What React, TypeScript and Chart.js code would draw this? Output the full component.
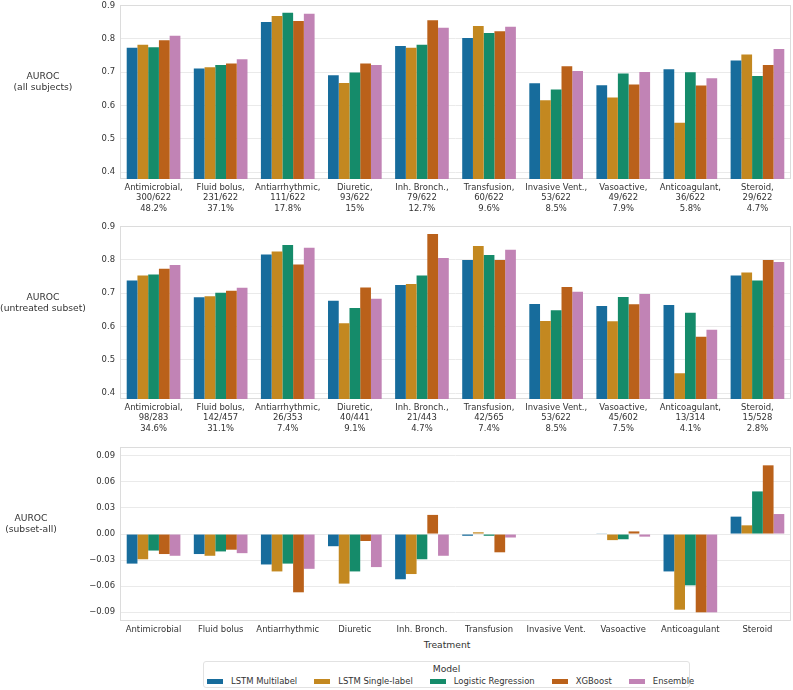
import React, { useEffect, useRef } from "react";
import { Chart, registerables } from "chart.js";

Chart.register(...registerables);

const FONT = "'DejaVu Sans', 'Liberation Sans', sans-serif";
const TEXT = "#333333";

const categories = [
  "Antimicrobial", "Fluid bolus", "Antiarrhythmic", "Diuretic", "Inh. Bronch.",
  "Transfusion", "Invasive Vent.", "Vasoactive", "Anticoagulant", "Steroid",
];
const allCounts = ["300/622", "231/622", "111/622", "93/622", "79/622", "60/622", "53/622", "49/622", "36/622", "29/622"];
const allPct = ["48.2%", "37.1%", "17.8%", "15%", "12.7%", "9.6%", "8.5%", "7.9%", "5.8%", "4.7%"];
const subCounts = ["98/283", "142/457", "26/353", "40/441", "21/443", "42/565", "53/622", "45/602", "13/314", "15/528"];
const subPct = ["34.6%", "31.1%", "7.4%", "9.1%", "4.7%", "7.4%", "8.5%", "7.5%", "4.1%", "2.8%"];

const models = ["LSTM Multilabel", "LSTM Single-label", "Logistic Regression", "XGBoost", "Ensemble"];
const modelColors = ["#176C9C", "#C38820", "#158B6A", "#BA611A", "#C183B5"];

// AUROC (all subjects)
const lstmMultiAll = [0.774, 0.711, 0.851, 0.691, 0.779, 0.803, 0.667, 0.661, 0.709, 0.735];
const lstmSingleAll = [0.783, 0.715, 0.869, 0.668, 0.774, 0.839, 0.616, 0.624, 0.548, 0.753];
const logRegAll = [0.775, 0.722, 0.879, 0.699, 0.783, 0.818, 0.648, 0.696, 0.700, 0.689];
const xgbAll = [0.796, 0.726, 0.854, 0.726, 0.856, 0.823, 0.718, 0.663, 0.660, 0.722];
const ensembleAll = [0.810, 0.739, 0.876, 0.722, 0.834, 0.837, 0.704, 0.701, 0.682, 0.770];

// AUROC (untreated subset)
const lstmMultiSub = [0.738, 0.687, 0.816, 0.677, 0.724, 0.799, 0.667, 0.661, 0.664, 0.753];
const lstmSingleSub = [0.753, 0.690, 0.825, 0.609, 0.727, 0.841, 0.616, 0.615, 0.459, 0.762];
const logRegSub = [0.756, 0.701, 0.844, 0.655, 0.753, 0.814, 0.648, 0.688, 0.641, 0.738];
const xgbSub = [0.773, 0.707, 0.786, 0.717, 0.877, 0.799, 0.718, 0.666, 0.569, 0.799];
const ensembleSub = [0.784, 0.716, 0.836, 0.683, 0.805, 0.830, 0.704, 0.697, 0.590, 0.793];

// AUROC (subset - all)
const lstmMultiDiff = [-0.034, -0.023, -0.035, -0.014, -0.052, -0.002, 0, 0.0004, -0.043, 0.020];
const lstmSingleDiff = [-0.029, -0.025, -0.043, -0.057, -0.046, 0.002, 0, -0.007, -0.087, 0.010];
const logRegDiff = [-0.019, -0.020, -0.034, -0.043, -0.029, -0.002, 0, -0.006, -0.059, 0.049];
const xgbDiff = [-0.023, -0.018, -0.067, -0.008, 0.022, -0.021, 0, 0.003, -0.090, 0.079];
const ensembleDiff = [-0.025, -0.022, -0.040, -0.038, -0.025, -0.004, 0, -0.003, -0.090, 0.023];

const aurocTicks = [0.4, 0.5, 0.6, 0.7, 0.8, 0.9];
const diffTicks = [-0.09, -0.06, -0.03, 0, 0.03, 0.06, 0.09];

const framePlugin = {
  id: "frame",
  beforeDatasetsDraw(chart: any) {
    const { ctx, chartArea: a } = chart;
    ctx.save();
    ctx.strokeStyle = "#DCDCDC";
    ctx.lineWidth = 1;
    ctx.strokeRect(Math.round(a.left) + 0.5, Math.round(a.top) + 0.5, Math.round(a.right - a.left) - 1, Math.round(a.bottom - a.top) - 1);
    ctx.restore();
  },
};

type PanelProps = {
  top: number;
  height: number;
  labels: any[];
  series: number[][];
  min: number;
  max: number;
  tickValues: number[];
  fmt: (v: number) => string;
  xAxisHeight: number;
};

function Panel({ top, height, labels, series, min, max, tickValues, fmt, xAxisHeight }: PanelProps) {
  const ref = useRef<HTMLCanvasElement | null>(null);
  useEffect(() => {
    if (!ref.current) return;
    const chart = new Chart(ref.current, {
      type: "bar",
      data: {
        labels,
        datasets: series.map((d, i) => ({
          label: models[i],
          data: d,
          backgroundColor: modelColors[i],
          borderWidth: 0,
          barPercentage: 1,
          categoryPercentage: 0.8,
        })),
      },
      options: {
        responsive: false,
        animation: false,
        devicePixelRatio: 1,
        layout: { padding: { top: 8, left: 0, right: 2, bottom: 0 } },
        plugins: { legend: { display: false }, tooltip: { enabled: false } },
        scales: {
          x: {
            type: "category",
            offset: true,
            grid: { display: false, drawTicks: false },
            border: { display: false },
            ticks: {
              font: { family: FONT, size: 8.45 },
              color: TEXT,
              padding: 4,
              maxRotation: 0,
              minRotation: 0,
              autoSkip: false,
            },
            afterFit: (s: any) => {
              s.height = xAxisHeight;
            },
          },
          y: {
            min,
            max,
            afterBuildTicks: (s: any) => {
              s.ticks = tickValues.map((v) => ({ value: v }));
            },
            afterFit: (s: any) => {
              s.width = 120;
            },
            grid: { color: "#EAEAEA", drawTicks: false, lineWidth: 1 },
            border: { display: false },
            ticks: {
              font: { family: FONT, size: 8.45 },
              color: TEXT,
              padding: 5,
              callback: (v: any) => fmt(Number(v)),
            },
          },
        },
      },
      plugins: [framePlugin],
    });
    return () => chart.destroy();
  }, []);
  return (
    <canvas
      ref={ref}
      width={793}
      height={height}
      style={{ position: "absolute", left: 0, top, width: 793, height }}
    />
  );
}

function Label({ x, y, lines, size }: { x: number; y: number; lines: string[]; size: number }) {
  return (
    <div
      style={{
        position: "absolute",
        left: x,
        top: y,
        transform: "translate(-50%, -50%)",
        fontFamily: FONT,
        fontSize: size,
        lineHeight: "1.2",
        color: TEXT,
        textAlign: "center",
        whiteSpace: "nowrap",
      }}
    >
      {lines.map((l, i) => (
        <div key={i}>{l}</div>
      ))}
    </div>
  );
}

const fmt1 = (v: number) => v.toFixed(1);
const fmt2 = (v: number) => {
  const s = Math.abs(v) < 1e-9 ? "0.00" : v.toFixed(2);
  return s.replace("-", "\u2212");
};

export default function App() {
  const labelsAll = categories.map((c, i) => [c + ",", allCounts[i], allPct[i]]);
  const labelsSub = categories.map((c, i) => [c + ",", subCounts[i], subPct[i]]);
  return (
    <div
      style={{
        position: "absolute",
        left: 0,
        top: 0,
        width: 793,
        height: 690,
        overflow: "hidden",
        background: "#ffffff",
      }}
    >
      <Panel
        top={-5}
        height={217}
        labels={labelsAll}
        series={[lstmMultiAll, lstmSingleAll, logRegAll, xgbAll, ensembleAll]}
        min={0.379}
        max={0.902}
        tickValues={aurocTicks}
        fmt={fmt1}
        xAxisHeight={33}
      />
      <Panel
        top={216}
        height={216}
        labels={labelsSub}
        series={[lstmMultiSub, lstmSingleSub, logRegSub, xgbSub, ensembleSub]}
        min={0.382}
        max={0.901}
        tickValues={aurocTicks}
        fmt={fmt1}
        xAxisHeight={33}
      />
      <Panel
        top={437}
        height={198}
        labels={categories}
        series={[lstmMultiDiff, lstmSingleDiff, logRegDiff, xgbDiff, ensembleDiff]}
        min={-0.1}
        max={0.1}
        tickValues={diffTicks}
        fmt={fmt2}
        xAxisHeight={14}
      />
      <Label x={43} y={80.5} lines={["AUROC", "(all subjects)"]} size={9.2} />
      <Label x={43} y={302} lines={["AUROC", "(untreated subset)"]} size={9.2} />
      <Label x={31} y={523} lines={["AUROC", "(subset-all)"]} size={9.2} />
      <Label x={447} y={645} lines={["Treatment"]} size={9.2} />
      <div
        style={{
          position: "absolute",
          left: 203,
          top: 661,
          width: 487,
          height: 27,
          boxSizing: "border-box",
          border: "1px solid #E2E2E2",
          borderRadius: 3,
          background: "#ffffff",
          fontFamily: FONT,
          color: TEXT,
        }}
      >
        <div style={{ position: "absolute", left: 0, right: 0, top: 1, textAlign: "center", fontSize: 9.2, lineHeight: "11px" }}>
          Model
        </div>
        <div style={{ position: "absolute", left: 3, top: 14, display: "flex", alignItems: "center", fontSize: 8.45, lineHeight: "11px", whiteSpace: "nowrap" }}>
          {models.map((m, i) => (
            <div key={m} style={{ display: "flex", alignItems: "center", marginRight: i < models.length - 1 ? 17 : 0 }}>
              <span style={{ display: "inline-block", width: 16, height: 5, background: modelColors[i], marginRight: 8 }} />
              <span>{m}</span>
            </div>
          ))}
        </div>
      </div>
    </div>
  );
}
